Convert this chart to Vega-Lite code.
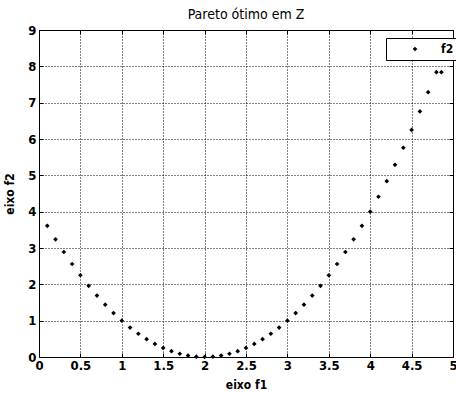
{
  "$schema": "https://vega.github.io/schema/vega-lite/v6.json",
  "width": 414,
  "height": 327,
  "autosize": {"type": "none"},
  "padding": {"left": 39, "top": 30, "right": 3, "bottom": 36},
  "background": "white",
  "title": {"text": "Pareto ótimo em Z", "font": "DejaVu Sans Condensed, Liberation Sans, sans-serif", "fontSize": 14, "fontWeight": "normal", "color": "black", "offset": 2},
  "config": {
    "view": {"stroke": "black", "strokeWidth": 1},
    "axis": {
      "grid": true,
      "gridColor": "black",
      "gridDash": [1, 2],
      "gridOpacity": 1,
      "gridWidth": 1,
      "domain": false,
      "ticks": true,
      "tickSize": -4,
      "tickColor": "black",
      "labelFont": "DejaVu Sans Condensed, Liberation Sans, sans-serif",
      "labelFontSize": 13,
      "labelFontWeight": "bold",
      "labelColor": "black",
      "titleFont": "DejaVu Sans Condensed, Liberation Sans, sans-serif",
      "titleFontSize": 12,
      "titleFontWeight": "bold",
      "titleColor": "black"
    }
  },
  "data": {
    "values": [
      {"f1": 0.1, "f2": 3.61, "serie": "f2"},
      {"f1": 0.2, "f2": 3.24, "serie": "f2"},
      {"f1": 0.3, "f2": 2.89, "serie": "f2"},
      {"f1": 0.4, "f2": 2.56, "serie": "f2"},
      {"f1": 0.5, "f2": 2.25, "serie": "f2"},
      {"f1": 0.6, "f2": 1.96, "serie": "f2"},
      {"f1": 0.7, "f2": 1.69, "serie": "f2"},
      {"f1": 0.8, "f2": 1.44, "serie": "f2"},
      {"f1": 0.9, "f2": 1.21, "serie": "f2"},
      {"f1": 1.0, "f2": 1.0, "serie": "f2"},
      {"f1": 1.1, "f2": 0.81, "serie": "f2"},
      {"f1": 1.2, "f2": 0.64, "serie": "f2"},
      {"f1": 1.3, "f2": 0.49, "serie": "f2"},
      {"f1": 1.4, "f2": 0.36, "serie": "f2"},
      {"f1": 1.5, "f2": 0.25, "serie": "f2"},
      {"f1": 1.6, "f2": 0.16, "serie": "f2"},
      {"f1": 1.7, "f2": 0.09, "serie": "f2"},
      {"f1": 1.8, "f2": 0.04, "serie": "f2"},
      {"f1": 1.9, "f2": 0.01, "serie": "f2"},
      {"f1": 2.0, "f2": 0.0, "serie": "f2"},
      {"f1": 2.1, "f2": 0.01, "serie": "f2"},
      {"f1": 2.2, "f2": 0.04, "serie": "f2"},
      {"f1": 2.3, "f2": 0.09, "serie": "f2"},
      {"f1": 2.4, "f2": 0.16, "serie": "f2"},
      {"f1": 2.5, "f2": 0.25, "serie": "f2"},
      {"f1": 2.6, "f2": 0.36, "serie": "f2"},
      {"f1": 2.7, "f2": 0.49, "serie": "f2"},
      {"f1": 2.8, "f2": 0.64, "serie": "f2"},
      {"f1": 2.9, "f2": 0.81, "serie": "f2"},
      {"f1": 3.0, "f2": 1.0, "serie": "f2"},
      {"f1": 3.1, "f2": 1.21, "serie": "f2"},
      {"f1": 3.2, "f2": 1.44, "serie": "f2"},
      {"f1": 3.3, "f2": 1.69, "serie": "f2"},
      {"f1": 3.4, "f2": 1.96, "serie": "f2"},
      {"f1": 3.5, "f2": 2.25, "serie": "f2"},
      {"f1": 3.6, "f2": 2.56, "serie": "f2"},
      {"f1": 3.7, "f2": 2.89, "serie": "f2"},
      {"f1": 3.8, "f2": 3.24, "serie": "f2"},
      {"f1": 3.9, "f2": 3.61, "serie": "f2"},
      {"f1": 4.0, "f2": 4.0, "serie": "f2"},
      {"f1": 4.1, "f2": 4.41, "serie": "f2"},
      {"f1": 4.2, "f2": 4.84, "serie": "f2"},
      {"f1": 4.3, "f2": 5.29, "serie": "f2"},
      {"f1": 4.4, "f2": 5.76, "serie": "f2"},
      {"f1": 4.5, "f2": 6.25, "serie": "f2"},
      {"f1": 4.6, "f2": 6.76, "serie": "f2"},
      {"f1": 4.7, "f2": 7.29, "serie": "f2"},
      {"f1": 4.8, "f2": 7.84, "serie": "f2"},
      {"f1": 4.86, "f2": 7.84, "serie": "f2"}
    ]
  },
  "resolve": {"axis": {"x": "independent", "y": "independent"}},
  "layer": [
    {
      "mark": {"type": "point", "shape": "diamond", "filled": true, "size": 22, "opacity": 1},
      "encoding": {
        "x": {
          "field": "f1",
          "type": "quantitative",
          "scale": {"domain": [0, 5], "nice": false, "zero": false},
          "axis": {"values": [0, 0.5, 1, 1.5, 2, 2.5, 3, 3.5, 4, 4.5, 5], "format": ".1~f", "title": "eixo f1", "labelPadding": 6, "titlePadding": 7, "labelFlush": false}
        },
        "y": {
          "field": "f2",
          "type": "quantitative",
          "scale": {"domain": [0, 9], "nice": false, "zero": false},
          "axis": {"values": [0, 1, 2, 3, 4, 5, 6, 7, 8, 9], "format": "d", "title": "eixo f2", "labelPadding": 7, "titlePadding": 11, "labelFlush": false}
        },
        "color": {
          "field": "serie",
          "type": "nominal",
          "scale": {"range": ["black"]},
          "legend": {
            "title": null,
            "orient": "none",
            "legendX": 347,
            "legendY": 8,
            "padding": 5,
            "strokeColor": "black",
            "fillColor": "white",
            "symbolType": "diamond",
            "symbolSize": 22,
            "symbolOffset": 18,
            "labelOffset": 20,
            "labelFont": "DejaVu Sans Condensed, Liberation Sans, sans-serif",
            "labelFontSize": 12,
            "labelFontWeight": "bold",
            "labelColor": "black"
          }
        }
      }
    },
    {
      "mark": {"type": "point", "opacity": 0},
      "encoding": {
        "x": {
          "field": "f1",
          "type": "quantitative",
          "axis": {"orient": "top", "values": [0, 0.5, 1, 1.5, 2, 2.5, 3, 3.5, 4, 4.5, 5], "labels": false, "grid": false, "title": null}
        },
        "y": {
          "field": "f2",
          "type": "quantitative",
          "axis": {"orient": "right", "values": [0, 1, 2, 3, 4, 5, 6, 7, 8, 9], "labels": false, "grid": false, "title": null}
        }
      }
    }
  ]
}
